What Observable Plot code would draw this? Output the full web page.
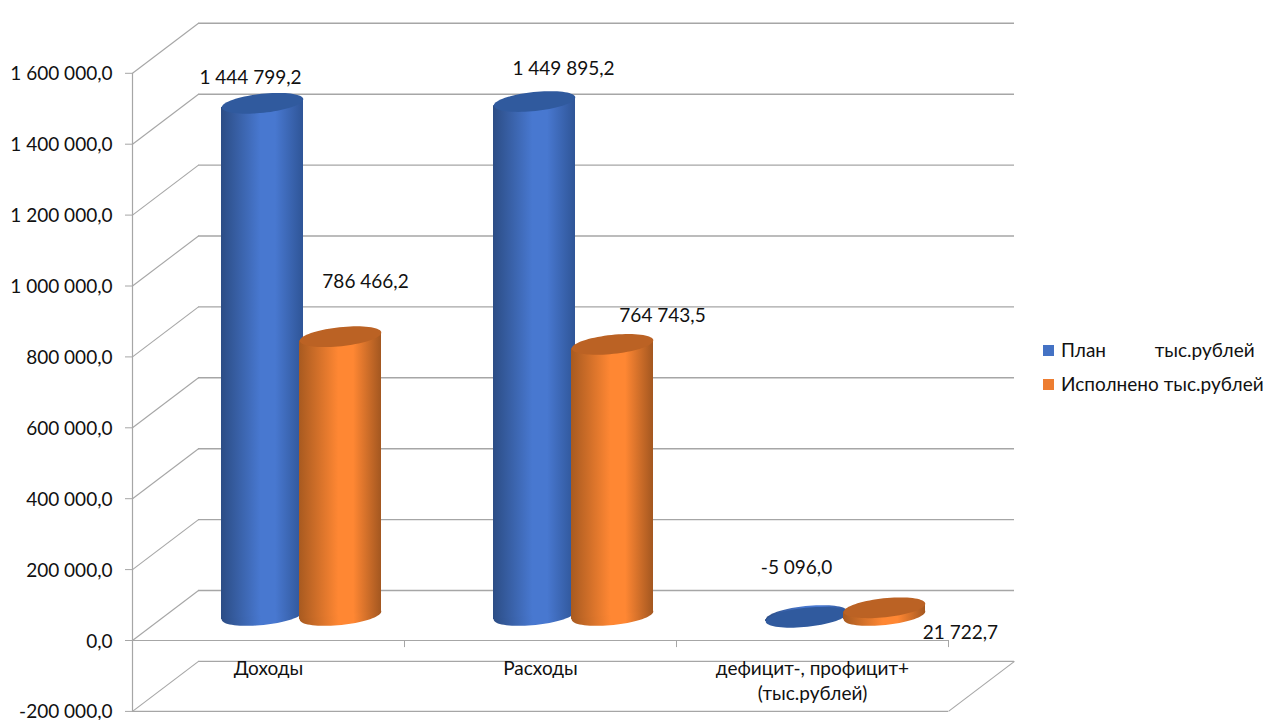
<!DOCTYPE html>
<html lang="ru">
<head>
<meta charset="utf-8">
<script src="https://cdn.jsdelivr.net/npm/d3@7"></script>
<script src="https://cdn.jsdelivr.net/npm/@observablehq/plot@0.6"></script>
<style>
  html, body { margin: 0; padding: 0; background: #fff; }
  #wrap { position: relative; width: 1280px; height: 720px; overflow: hidden; font-family: Lato, sans-serif; color: #111; }
  #wrap svg { display: block; position: absolute; left: 0; top: 0; }
  .lg { position: absolute; left: 1043px; display: flex; align-items: center; white-space: pre; font-size: 19px; line-height: 22px; }
  .lg i { display: block; width: 11px; height: 11px; margin-right: 7px; }
</style>
</head>
<body>
<div id="wrap"></div>
<script>
const categories = ["Доходы", "Расходы", "дефицит-, профицит+\n(тыс.рублей)"];
const seriesNames = ["План          тыс.рублей", "Исполнено тыс.рублей"];
const planValues = [1444799.2, 1449895.2, -5096.0];
const doneValues = [786466.2, 764743.5, 21722.7];
const yTicks = [-200000, 0, 200000, 400000, 600000, 800000, 1000000, 1200000, 1400000, 1600000];
const labelOffsetsPlan = [[-12, -25], [29, -33], [-10, -49]];
const labelOffsetsDone = [[25, -55], [50, -28], [76, 25]];

const GRID = "#a6a6a6";
const depthX = 66 / 272;           // chart depth, in category units
const depthY = 50 / 70.9 * 200000; // chart depth, in value units
const halfGap = 39 / 272;
const halfW = 41 / 272;
const slope = 4.3 / 70.9 * 200000;

const fmt = d3.formatLocale({decimal: ",", thousands: "\u00a0", grouping: [3], currency: ["", ""], minus: "-"}).format(",.1f");

function tiltedEllipse(a, b, deg) {
  const th = deg * Math.PI / 180;
  return {
    draw(ctx) {
      const n = 72;
      for (let i = 0; i < n; i++) {
        const t = i / n * 2 * Math.PI;
        const ex = a * Math.cos(t), ey = b * Math.sin(t);
        const px = ex * Math.cos(th) - ey * Math.sin(th);
        const py = -(ex * Math.sin(th) + ey * Math.cos(th));
        i ? ctx.lineTo(px, py) : ctx.moveTo(px, py);
      }
      ctx.closePath();
    }
  };
}
const capSymbol = tiltedEllipse(41, 9.5, 6);

function rows(values, sign) {
  return values.map((value, i) => ({
    i, value, key: i,
    cx: i + 0.5 + sign * halfGap + depthX / 2,
    top: value + depthY / 2,
    base: depthY / 2
  }));
}
function bodyRows(rs) {
  return rs.flatMap(r => [
    {key: r.key, x: r.cx - halfW, y1: r.base - slope, y2: r.top - slope},
    {key: r.key, x: r.cx + halfW, y1: r.base + slope, y2: r.top + slope}
  ]);
}
const planRows = rows(planValues, -1);
const doneRows = rows(doneValues, 1);

function gradient(id, edgeL, mid, edgeR) {
  return `<linearGradient id="${id}" x1="0" x2="1" y1="0" y2="0">
    <stop offset="0" stop-color="${edgeL}"/>
    <stop offset="0.48" stop-color="${mid}"/><stop offset="0.66" stop-color="${mid}"/>
    <stop offset="1" stop-color="${edgeR}"/></linearGradient>`;
}
const defs = () => {
  const g = d3.create("svg:defs");
  g.html(gradient("gBlue", "#2c4d85", "#4878d0", "#2f5597") + gradient("gOrange", "#a85a20", "#ff8733", "#a35720"));
  return g.node();
};

function cylinder(rs, grad, capColor) {
  return [
    Plot.dot(rs, {x: "cx", y: "base", r: 41, symbol: capSymbol, fill: grad, stroke: "none"}),
    Plot.areaY(bodyRows(rs), {x: "x", y1: "y1", y2: "y2", z: "key", fill: grad, curve: "linear"}),
    Plot.dot(rs, {x: "cx", y: "top", r: 41, symbol: capSymbol, fill: capColor, stroke: "none"})
  ];
}
function labels(rs, offsets) {
  return rs.map((r, i) => Plot.text([r], {
    x: "cx", y: "top", text: d => fmt(d.value),
    dx: offsets[i][0], dy: offsets[i][1], fontSize: 19, fill: "#111"
  }));
}

const chart = Plot.plot({
  width: 1280, height: 720,
  marginLeft: 132, marginRight: 332, marginTop: 72.8, marginBottom: 9.1,
  x: {domain: [0, 3], axis: null},
  y: {domain: [-200000, 1600000]},
  style: {fontFamily: "Lato, sans-serif", fontSize: "19px", background: "#fff", color: "#111"},
  marks: [
    defs,
    // back wall and side wall
    Plot.ruleY(yTicks, {x1: depthX, x2: 3 + depthX, y: d => d + depthY, stroke: GRID, strokeWidth: 1.4}),
    Plot.link(yTicks, {x1: 0, y1: d => d, x2: depthX, y2: d => d + depthY, stroke: GRID, strokeWidth: 1.1}),
    Plot.link([-200000], {x1: 3, y1: d => d, x2: 3 + depthX, y2: d => d + depthY, stroke: GRID, strokeWidth: 1.1}),
    // front frame
    Plot.ruleX([0], {y1: -200000, y2: 1600000, stroke: GRID, strokeWidth: 1.2}),
    Plot.ruleY([0, -200000], {x1: 0, x2: 3, stroke: GRID, strokeWidth: 1.2}),
    Plot.ruleX([0, 1, 2, 3], {y1: 0, y2: -20000, stroke: GRID, strokeWidth: 1}),
    Plot.axisY({ticks: yTicks, tickSize: 7, text: null, label: null, stroke: GRID}),
    Plot.axisY({ticks: yTicks, tickFormat: fmt, tickSize: 0, tickPadding: 20, label: null, dy: 1, fontSize: 19}),
    ...cylinder(planRows, "url(#gBlue)", "#305a9e"),
    ...cylinder(doneRows, "url(#gOrange)", "#bb6224"),
    ...labels(planRows, labelOffsetsPlan),
    ...labels(doneRows, labelOffsetsDone),
    Plot.text(categories, {
      x: (d, i) => i + 0.5, y: -48000, text: d => d, lineAnchor: "top", lineHeight: 1.32, fontSize: 19, fill: "#111"
    })
  ]
});

const wrap = document.getElementById("wrap");
wrap.appendChild(chart);
[["#4472c4", 339], ["#ed7d31", 373]].forEach(([c, top], i) => {
  const row = document.createElement("div");
  row.className = "lg";
  row.style.top = top + "px";
  const sw = document.createElement("i");
  sw.style.background = c;
  row.appendChild(sw);
  row.appendChild(document.createTextNode(seriesNames[i]));
  wrap.appendChild(row);
});
</script>
</body>
</html>
